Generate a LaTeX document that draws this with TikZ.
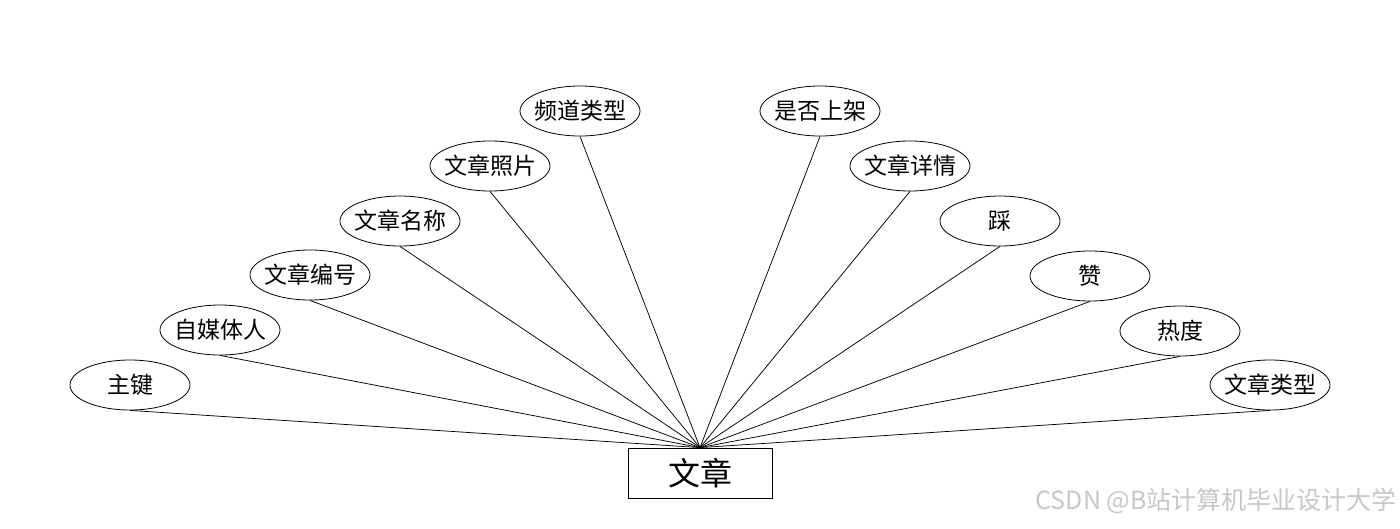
\documentclass[tikz,border=0pt]{standalone}
\usepackage{fontspec}
\setmainfont{Noto Sans CJK SC}
\usetikzlibrary{shapes.geometric}
\newcommand{\zw}[1]{\makebox[0pt]{#1}}
\begin{document}
\begin{tikzpicture}[x=1pt,y=-1pt,
  attr/.style={draw, ellipse, line width=0.8pt, minimum width=120pt, minimum height=50pt, inner sep=0pt, font=\fontsize{23}{23}\selectfont},
  ent/.style={draw, rectangle, line width=0.8pt, minimum width=144pt, minimum height=50pt, inner sep=0pt, font=\fontsize{32}{32}\selectfont},
  link/.style={line width=0.75pt}]
\useasboundingbox (0,0) rectangle (1400,528);
\node[ent] (e) at (700,473) {文章};
\node[attr] (a1) at (130,385) {\zw{主键}};
\node[attr] (a2) at (220,330) {\zw{自媒体人}};
\node[attr] (a3) at (310,275) {\zw{文章编号}};
\node[attr] (a4) at (400,221) {\zw{文章名称}};
\node[attr] (a5) at (490,166) {\zw{文章照片}};
\node[attr] (a6) at (580,111) {\zw{频道类型}};
\node[attr] (b6) at (820,111) {\zw{是否上架}};
\node[attr] (b5) at (910,166) {\zw{文章详情}};
\node[attr] (b4) at (1000,221) {\zw{踩}};
\node[attr] (b3) at (1090,276) {\zw{赞}};
\node[attr] (b2) at (1180,331) {\zw{热度}};
\node[attr] (b1) at (1270,385) {\zw{文章类型}};
\foreach \n in {a1,a2,a3,a4,a5,a6,b1,b2,b3,b4,b5,b6}
  \draw[link] (\n.south) -- (e.north);
\node[anchor=east, text=black!22, font=\fontsize{25}{25}\selectfont, inner sep=0pt] (wm) at (1397,501) {CSDN @B站计算机毕业设计大学};
\end{tikzpicture}
\end{document}
